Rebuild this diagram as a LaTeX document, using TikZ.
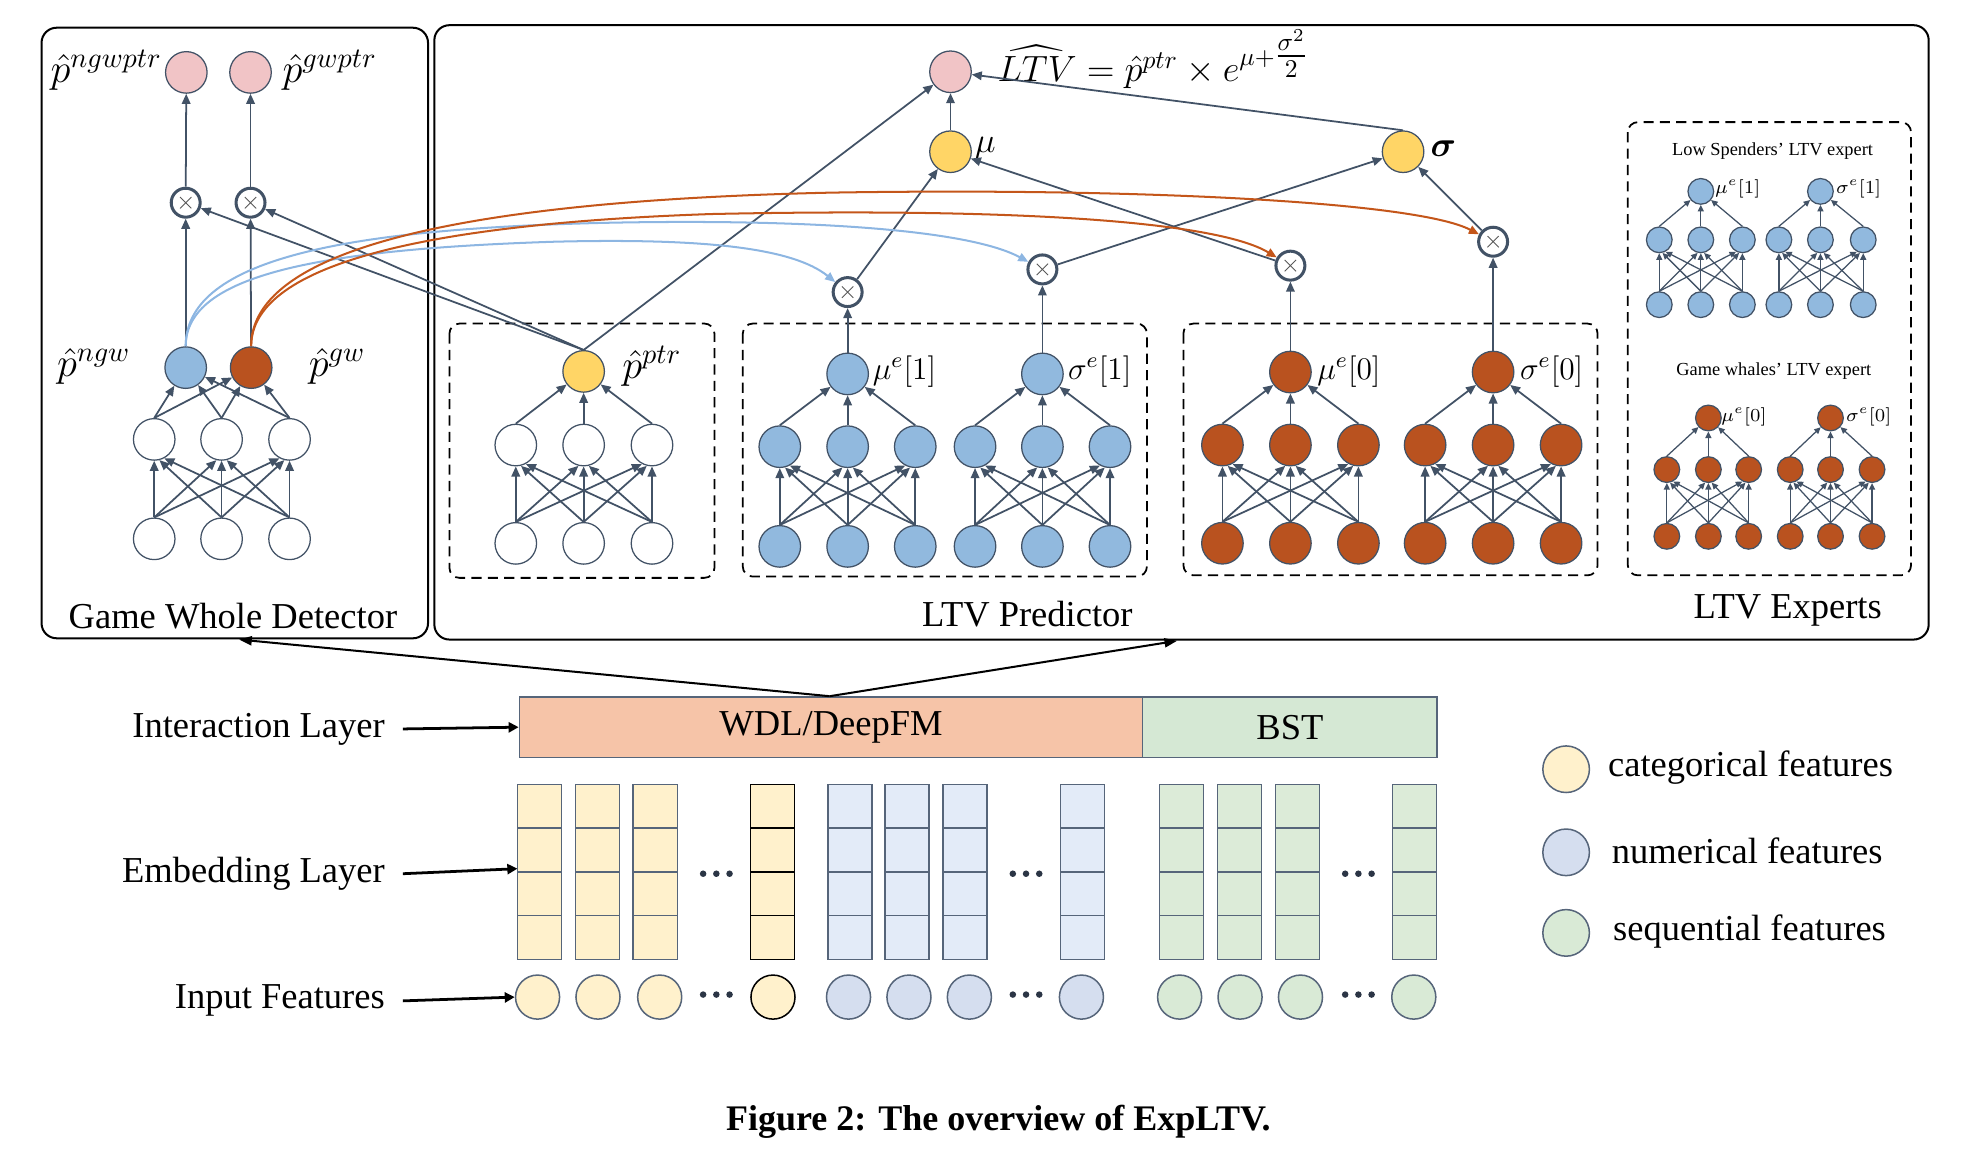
\RequirePackage{fix-cm}
\documentclass[tikz,border=0pt]{standalone}
\usepackage{fontspec}
\setmainfont{Liberation Serif}
\usepackage{amsmath}
\usetikzlibrary{arrows.meta,calc}

\definecolor{edgec}{HTML}{425266}
\definecolor{nblue}{HTML}{91B9DE}
\definecolor{norange}{HTML}{B9521F}
\definecolor{nyellow}{HTML}{FFD566}
\definecolor{npink}{HTML}{F1C4C6}
\definecolor{cblue}{HTML}{8DB6E2}
\definecolor{corange}{HTML}{C4561A}
\definecolor{salmon}{HTML}{F6C4A8}
\definecolor{bstg}{HTML}{D5E8D4}
\definecolor{catf}{HTML}{FFF1CC}
\definecolor{numcol}{HTML}{E3EBF8}
\definecolor{numf}{HTML}{D5DEEF}
\definecolor{seqcol}{HTML}{DCEBD8}
\definecolor{seqf}{HTML}{D9EAD6}
\definecolor{cellb}{HTML}{56657A}
\definecolor{dotc}{HTML}{2B3545}

% layers of a 3-3 net: #1 prefix, #2 node style, #3-#5 x, #6 y input, #7 y hidden, #8 arrow style
\newcommand{\mlplayers}[8]{%
  \foreach \xx [count=\k] in {#3,#4,#5} {
    \node[#2] (#1i\k) at (\xx,#6) {};
    \node[#2] (#1h\k) at (\xx,#7) {};
  }
  \foreach \a in {1,2,3}{\foreach \b in {1,2,3}{
      \pgfmathtruncatemacro\ang{270+14*(\a-\b)}
      \draw[#8] (#1i\a.north) -- (#1h\b.\ang);
  }}
}
% hidden -> output: #1 prefix, #2 output node, #3 arrow style
\newcommand{\mlpout}[3]{%
  \foreach \a in {1,2,3}{\draw[#3] (#1h\a.north) -- (#2);}
}
% embedding column: #1 x, #2 fill, #3 border
\newcommand{\embcol}[3]{%
  \foreach \r in {0,1,2,3}{\draw[draw=#3, fill=#2, line width=0.6pt] (#1,623+34.75*\r) rectangle ++(35,34.75);}
}
% three dots: #1 x start, #2 y
\newcommand{\threedots}[2]{%
  \foreach \d in {0,1,2}{\fill[dotc] (#1+3.5+10.5*\d,#2) circle (1.3pt);}
}

\begin{document}
\begin{tikzpicture}[x=0.5pt,y=-0.5pt,
  neuron/.style={circle, draw=edgec, line width=0.5pt, minimum size=16.5pt, inner sep=0pt},
  sneuron/.style={circle, draw=edgec, line width=0.5pt, minimum size=10.2pt, inner sep=0pt},
  nWhite/.style={neuron, fill=white},
  nBlue/.style={neuron, fill=nblue},
  nOrange/.style={neuron, fill=norange},
  nYellow/.style={neuron, fill=nyellow},
  nPink/.style={neuron, fill=npink},
  sBlue/.style={sneuron, fill=nblue},
  sOrange/.style={sneuron, fill=norange},
  arr/.style={draw=edgec, line width=0.7pt, -{Triangle[length=4pt,width=3.4pt]}},
  sarr/.style={draw=edgec, line width=0.5pt, -{Triangle[length=2.6pt,width=2.4pt]}},
  curveb/.style={draw=cblue, line width=0.8pt, -{Triangle[length=4pt,width=3.4pt]}},
  curveo/.style={draw=corange, line width=0.8pt, -{Triangle[length=4pt,width=3.4pt]}},
  mulnode/.style={circle, draw=edgec, line width=1.2pt, fill=white, minimum size=11.5pt, inner sep=0pt,
    path picture={\draw[black!65, line width=0.35pt]
      ($(path picture bounding box.center)+(-4.5,-4.5)$) -- ($(path picture bounding box.center)+(4.5,4.5)$)
      ($(path picture bounding box.center)+(-4.5,4.5)$) -- ($(path picture bounding box.center)+(4.5,-4.5)$);}},
  boxline/.style={draw=black, line width=0.8pt, rounded corners=6pt},
  dashbox/.style={draw=black, line width=0.7pt, dash pattern=on 4pt off 2.5pt, rounded corners=4pt},
  lab/.style={font=\fontsize{14.5}{17}\selectfont, inner sep=0pt},
  mlab/.style={font=\fontsize{16}{18}\selectfont, inner sep=0pt},
  elab/.style={font=\fontsize{12.5}{14}\selectfont, inner sep=0pt},
  xlab/.style={font=\fontsize{7.3}{9}\selectfont, inner sep=0pt},
  labarr/.style={draw=black, line width=1.1pt, -{Triangle[length=4pt,width=4pt]}},
  bigarr/.style={draw=black, line width=0.8pt, -{Triangle[length=5pt,width=3.6pt]}},
  feat/.style={circle, line width=0.6pt, minimum size=17.5pt, inner sep=0pt},
]
\useasboundingbox (0,0) rectangle (1568,918);

% ---------------- outer boxes ----------------
\draw[boxline] (33,22) rectangle (340,507);
\draw[boxline] (345,20) rectangle (1532,508);
\node[lab] (tGWD) at (185,489) {Game Whole Detector};
\node[lab] (tLTV) at (816,488) {LTV Predictor};
\node[lab] (tEXP) at (1420,485) {LTV Experts};

% dashed boxes
\draw[dashbox] (357,257) rectangle (567.5,459);
\draw[dashbox] (590,257) rectangle (911,458);
\draw[dashbox] (940,257) rectangle (1269,457);
\draw[dashbox] (1293,97) rectangle (1518,457);

% ---------------- Game whole detector ----------------
\node[nPink] (pk1) at (148,57.5) {};
\node[nPink] (pk2) at (199,57.5) {};
\node[mlab, anchor=east] (lpk1) at (129,56) {$\hat{p}^{ngwptr}$};
\node[mlab, anchor=west] (lpk2) at (224,56) {$\hat{p}^{gwptr}$};
\node[mulnode] (xl1) at (147.5,161) {};
\node[mulnode] (xl2) at (199,161) {};
\node[nBlue] (pngw) at (147.5,292) {};
\node[nOrange] (pgw) at (199.5,292) {};
\node[mlab, anchor=east] (lpngw) at (104,291) {$\hat{p}^{ngw}$};
\node[mlab, anchor=west] (lpgw) at (245,291) {$\hat{p}^{gw}$};
\mlplayers{gw}{nWhite}{122.5}{176}{230}{428}{349}{arr}
\mlpout{gw}{pngw}{arr}
\mlpout{gw}{pgw}{arr}
\draw[arr] (pngw) -- (xl1);
\draw[arr] (pgw) -- (xl2);
\draw[arr] (xl1) -- (pk1);
\draw[arr] (xl2) -- (pk2);

% ---------------- LTV predictor ----------------
\node[nPink] (ltv) at (755,57) {};
\node[font=\fontsize{14.5}{17}\selectfont, inner sep=0pt, anchor=base west] (form) at (792,65)
  {$\widehat{LTV} = \hat{p}^{ptr} \times e^{\mu+{\textstyle\frac{\sigma^{2}}{2}}}$};
\node[nYellow] (mu) at (755,120.5) {};
\node[nYellow] (sig) at (1114.5,120.5) {};
\node[elab, font=\fontsize{14}{16}\selectfont, anchor=west] (lmu) at (774,118) {$\mu$};
\node[elab, font=\fontsize{14}{16}\selectfont, anchor=west] (lsig) at (1136,118) {$\boldsymbol{\sigma}$};

\node[mulnode] (m1) at (673.3,232) {};
\node[mulnode] (m2) at (828,214) {};
\node[mulnode] (m3) at (1025,211) {};
\node[mulnode] (m4) at (1186,192) {};

% p^ptr net
\mlplayers{pt}{nWhite}{409.7}{463.6}{517.9}{431.6}{353.5}{arr}
\node[nYellow] (pptr) at (463.6,295) {};
\mlpout{pt}{pptr}{arr}
\node[mlab, anchor=west] (lpptr) at (494,291) {$\hat{p}^{ptr}$};

% blue nets
\mlplayers{bm}{nBlue}{619.4}{673.3}{727}{434}{354.8}{arr}
\node[nBlue] (bmo) at (673.3,297) {};
\mlpout{bm}{bmo}{arr}
\node[elab, anchor=west] (lbmo) at (693,295) {$\mu^{e}[1]$};
\mlplayers{bs}{nBlue}{774.5}{828}{881.7}{434}{354.8}{arr}
\node[nBlue] (bso) at (828,297) {};
\mlpout{bs}{bso}{arr}
\node[elab, anchor=west] (lbso) at (848,295) {$\sigma^{e}[1]$};

% orange nets
\mlplayers{om}{nOrange}{971}{1025}{1079}{431.5}{353.5}{arr}
\node[nOrange] (omo) at (1025,295.5) {};
\mlpout{om}{omo}{arr}
\node[elab, anchor=west] (lomo) at (1046,295) {$\mu^{e}[0]$};
\mlplayers{os}{nOrange}{1132}{1186}{1240}{431.5}{353.5}{arr}
\node[nOrange] (oso) at (1186,295.5) {};
\mlpout{os}{oso}{arr}
\node[elab, anchor=west] (loso) at (1207,295) {$\sigma^{e}[0]$};

% expert outputs to multipliers
\draw[arr] (bmo) -- (m1);
\draw[arr] (bso) -- (m2);
\draw[arr] (omo) -- (m3);
\draw[arr] (oso) -- (m4);
% multipliers to mu / sigma
\draw[arr] (m1) -- (mu);
\draw[arr] (m3) -- (mu);
\draw[arr] (m2) -- (sig);
\draw[arr] (m4) -- (sig);
% to LTV
\draw[arr] (mu) -- (ltv);
\draw[arr] (sig.north) -- (ltv);
\draw[arr] (pptr.north) -- (ltv);
% p^ptr to game whole detector multipliers
\draw[arr] (pptr.north) -- (xl1);
\draw[arr] (pptr.north) -- (xl2);

% gates (curves)
\draw[curveb] (pngw.north) .. controls (147.5,218) and (255,198) .. (440,192)
  .. controls (560,189) and (630,197) .. (m1);
\draw[curveb] (pngw.north) .. controls (147.5,208) and (265,182) .. (480,177)
  .. controls (620,174) and (765,180) .. (m2);
\draw[curveo] (pgw.north) .. controls (199.5,212) and (330,178) .. (565,170)
  .. controls (800,165) and (965,175) .. (m3);
\draw[curveo] (pgw.north) .. controls (199.5,203) and (345,160) .. (660,153)
  .. controls (900,149) and (1125,160) .. (m4);

% ---------------- LTV experts ----------------
\node[xlab] (tlow) at (1408,120) {Low Spenders’ LTV expert};
\node[xlab] (twh) at (1409,295) {Game whales’ LTV expert};
\mlplayers{ea}{sBlue}{1318}{1351}{1384}{242}{190.5}{sarr}
\node[sBlue] (eao) at (1351,152) {};
\mlpout{ea}{eao}{sarr}
\node[xlab, anchor=west] (leao) at (1362,150) {$\mu^{e}[1]$};
\mlplayers{eb}{sBlue}{1413}{1446}{1480}{242}{190.5}{sarr}
\node[sBlue] (ebo) at (1446,152) {};
\mlpout{eb}{ebo}{sarr}
\node[xlab, anchor=west] (lebo) at (1458,150) {$\sigma^{e}[1]$};
\mlplayers{ec}{sOrange}{1324}{1357}{1389}{426}{373}{sarr}
\node[sOrange] (eco) at (1357,332) {};
\mlpout{ec}{eco}{sarr}
\node[xlab, anchor=west] (leco) at (1367,331) {$\mu^{e}[0]$};
\mlplayers{ed}{sOrange}{1422}{1454}{1487}{426}{373}{sarr}
\node[sOrange] (edo) at (1454,332) {};
\mlpout{ed}{edo}{sarr}
\node[xlab, anchor=west] (ledo) at (1466,331) {$\sigma^{e}[0]$};

% ---------------- bottom: interaction / embedding / input ----------------
\node[draw=cellb, fill=salmon, line width=0.6pt, minimum width=247.5pt, minimum height=24pt, inner sep=0pt,
  anchor=north west, font=\fontsize{14.5}{17}\selectfont] (wdl) at (412,553) {WDL/DeepFM};
\node[draw=cellb, fill=bstg, line width=0.6pt, minimum width=117pt, minimum height=24pt, inner sep=0pt,
  anchor=north west, font=\fontsize{14.5}{17}\selectfont] (bst) at (907,553) {BST};

\coordinate (wtop) at (659,553);
\coordinate (gwdbot) at (190,508);
\coordinate (ltvbot) at (935,509);
\draw[bigarr] (wtop) -- (gwdbot);
\draw[bigarr] (wtop) -- (ltvbot);

\foreach \x in {411,457,503}{\embcol{\x}{catf}{cellb}}
\embcol{596}{catf}{black}
\foreach \x in {657.5,703,749,842.5}{\embcol{\x}{numcol}{cellb}}
\foreach \x in {921,967,1013,1106}{\embcol{\x}{seqcol}{cellb}}
\threedots{555}{694}
\threedots{801}{694}
\threedots{1065}{694}

\node[feat, draw=cellb, fill=catf] (ci1) at (427,792) {};
\node[feat, draw=cellb, fill=catf] (ci2) at (475,792) {};
\node[feat, draw=cellb, fill=catf] (ci3) at (524,792) {};
\node[feat, draw=black, fill=catf] (ci4) at (614,792) {};
\node[feat, draw=cellb, fill=numf] (ni1) at (674,792) {};
\node[feat, draw=cellb, fill=numf] (ni2) at (722,792) {};
\node[feat, draw=cellb, fill=numf] (ni3) at (770,792) {};
\node[feat, draw=cellb, fill=numf] (ni4) at (859,792) {};
\node[feat, draw=cellb, fill=seqf] (si1) at (937,792) {};
\node[feat, draw=cellb, fill=seqf] (si2) at (985,792) {};
\node[feat, draw=cellb, fill=seqf] (si3) at (1033,792) {};
\node[feat, draw=cellb, fill=seqf] (si4) at (1123,792) {};
\threedots{555}{790}
\threedots{801}{790}
\threedots{1065}{790}

\node[lab, anchor=east] (labInt) at (306,579) {Interaction Layer};
\node[lab, anchor=east] (labEmb) at (306,694) {Embedding Layer};
\node[lab, anchor=east] (labInp) at (306,795) {Input Features};
\coordinate (embin) at (411,690);
\draw[labarr] ([xshift=7pt]labInt.east) -- (wdl.west);
\draw[labarr] ([xshift=7pt]labEmb.east) -- (embin);
\draw[labarr] ([xshift=7pt]labInp.east) -- (ci1.west);

% legend
\node[feat, minimum size=18.5pt, draw=cellb, fill=catf] (lg1) at (1244,611) {};
\node[feat, minimum size=18.5pt, draw=cellb, fill=numf] (lg2) at (1244,677) {};
\node[feat, minimum size=18.5pt, draw=cellb, fill=seqf] (lg3) at (1244,741) {};
\node[lab, anchor=west] (tlg1) at (1277,610) {categorical features};
\node[lab, anchor=west] (tlg2) at (1280,676) {numerical features};
\node[lab, anchor=west] (tlg3) at (1281,740) {sequential features};

% caption
\node[font=\bfseries\fontsize{14.3}{16}\selectfont, inner sep=0pt] (cap) at (793,891) {Figure 2: The overview of ExpLTV.};
\end{tikzpicture}
\end{document}
